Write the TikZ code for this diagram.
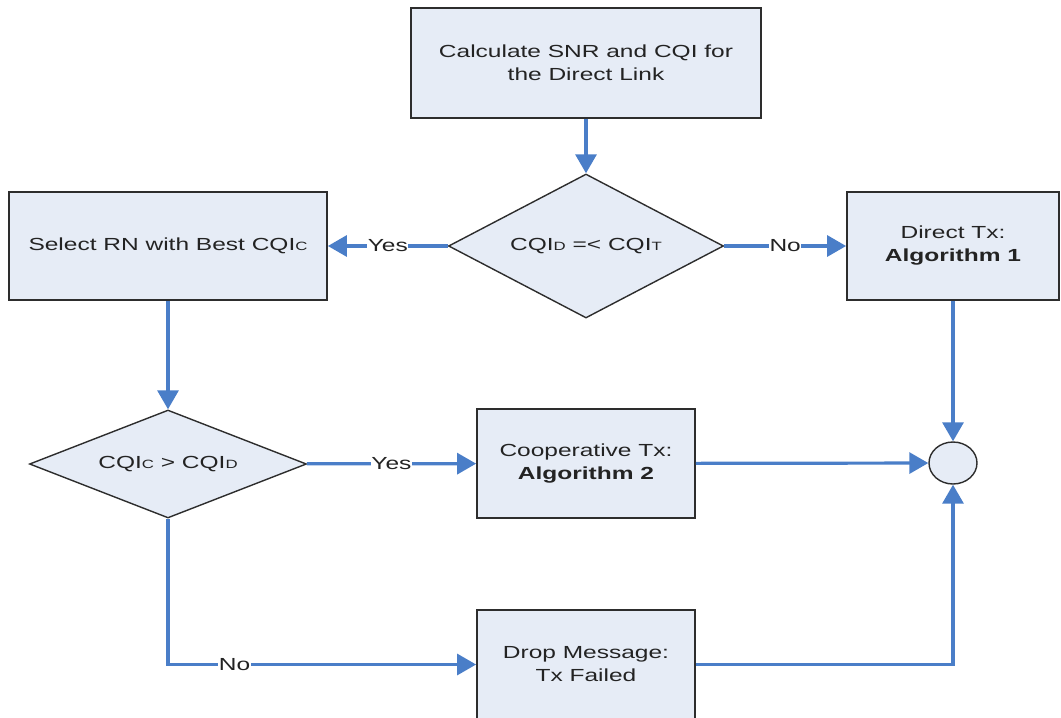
\documentclass[tikz,border=0pt]{standalone}
\usepackage{fontspec}
\setmainfont{Liberation Sans}
\usetikzlibrary{shapes.geometric,arrows.meta,shadows}

\definecolor{boxfill}{RGB}{230,236,246}
\definecolor{flowblue}{RGB}{74,126,200}
\definecolor{edge}{RGB}{45,45,45}
\definecolor{ink}{RGB}{35,35,35}

% horizontally widened text, as set in the chart
\newcommand\wide[1]{\scalebox{1.4}[1]{#1}}
\newcommand\sml[1]{{\fontsize{12}{12}\selectfont #1}}

\tikzset{
  procbox/.style={rectangle, draw=edge, line width=1.8pt, fill=boxfill,
    drop shadow={shadow xshift=1.4pt, shadow yshift=-1.4pt, fill=black!45, opacity=0.6},
    align=center, text=ink, inner sep=0pt},
  decide/.style={diamond, draw=edge, line width=1.4pt, fill=boxfill,
    align=center, text=ink, inner sep=0pt, aspect=2},
  joint/.style={ellipse, draw=edge, line width=1.4pt, fill=boxfill, inner sep=0pt},
  flow/.style={draw=flowblue, line width=3.2pt,
    -{Triangle[length=19pt,width=21pt]}},
  tag/.style={fill=white, text=ink, inner sep=0.5pt},
}

\begin{document}
\begin{tikzpicture}[x=1pt, y=-1pt, font=\fontsize{17.5}{23}\selectfont]
\useasboundingbox (0,0) rectangle (1061,718);

% process boxes
\node[procbox, minimum width=350, minimum height=110] (calc) at (586,63)
  {\wide{Calculate SNR and CQI for}\\\wide{the Direct Link}};
\node[procbox, minimum width=318, minimum height=108] (sel) at (168,246)
  {\wide{Select RN with Best CQI\sml{C}}};
\node[procbox, minimum width=212, minimum height=108] (direct) at (953,246)
  {\wide{Direct Tx:}\\\wide{\textbf{Algorithm 1}}};
\node[procbox, minimum width=218, minimum height=109] (coop) at (586,463.5)
  {\wide{Cooperative Tx:}\\\wide{\textbf{Algorithm 2}}};
\node[procbox, minimum width=218, minimum height=109] (drop) at (586,664.5)
  {\wide{Drop Message:}\\\wide{Tx Failed}};

% decisions
\node[decide, minimum width=275, minimum height=144] (d1) at (586,246)
  {\wide{CQI\sml{D} =< CQI\sml{T}}};
\node[decide, minimum width=277, minimum height=108] (d2) at (168,464)
  {\wide{CQI\sml{C} > CQI\sml{D}}};

% merge point
\node[joint, minimum width=48, minimum height=42] (join) at (953,463) {};

% connectors
\draw[flow] (calc) -- (d1);
\draw[flow] (d1) -- node[tag] {\wide{Yes}} (sel);
\draw[flow] (d1) -- node[tag] {\wide{No}} (direct);
\draw[flow] (sel) -- (d2);
\draw[flow] (d2) -- node[tag] {\wide{Yes}} (coop);
\draw[flow] (d2.south) |- node[tag, pos=0.608] {\wide{No}} (drop.west);
\draw[flow] (coop) -- (join);
\draw[flow] (direct) -- (join);
\draw[flow] (drop.east) -| (join.south);
\end{tikzpicture}
\end{document}
